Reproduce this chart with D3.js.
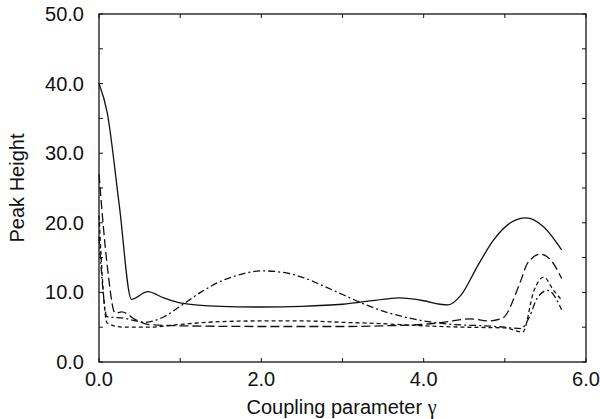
<!DOCTYPE html>
<html>
<head>
<meta charset="utf-8">
<script src="https://cdn.jsdelivr.net/npm/d3@7"></script>
<style>
  body { margin: 0; background: #fff; }
  text { font-family: "Liberation Sans", Arial, sans-serif; fill: #111; }
</style>
</head>
<body>
<div id="chart"></div>
<script>
// Data (gamma, peak height)
const solidGamma = [0, 0.1, 0.25, 0.4, 0.6, 0.8, 1.0, 1.5, 2.0, 2.5, 3.0, 3.5, 3.7, 4.0, 4.2, 4.3, 4.46, 4.66, 4.86, 5.07, 5.26, 5.48, 5.7];
const solidPeak = [40.0, 35.9, 22.5, 9.0, 10.1, 9.2, 8.5, 8.0, 7.9, 8.0, 8.3, 9.0, 9.2, 8.8, 8.3, 8.2, 9.6, 13.7, 17.5, 20.0, 20.7, 19.4, 16.1];

const longDashGamma = [0, 0.1, 0.2, 0.28, 0.45, 0.6, 1.0, 2.0, 3.0, 3.5, 4.0, 4.3, 4.58, 4.8, 4.97, 5.2, 5.28, 5.44, 5.57, 5.7];
const longDashPeak = [27.0, 14.0, 7.0, 7.2, 6.1, 5.4, 5.2, 5.1, 5.1, 5.2, 5.4, 5.8, 6.2, 5.9, 6.3, 11.8, 14.2, 15.5, 14.6, 12.0];

const shortDashGamma = [0, 0.1, 0.3, 0.6, 1.0, 1.5, 2.0, 2.5, 3.0, 3.5, 4.0, 4.5, 5.0, 5.22, 5.36, 5.48, 5.6, 5.7];
const shortDashPeak = [21.0, 5.6, 5.0, 5.0, 5.4, 5.8, 5.9, 5.9, 5.7, 5.5, 5.2, 5.0, 4.9, 4.3, 10.3, 12.2, 10.3, 8.9];

const dashDotGamma = [0, 0.1, 0.3, 0.57, 0.8, 1.0, 1.25, 1.5, 1.75, 2.0, 2.25, 2.5, 2.75, 3.0, 3.25, 3.5, 3.75, 4.0, 4.25, 4.5, 4.75, 5.0, 5.2, 5.3, 5.4, 5.53, 5.7];
const dashDotPeak = [18.0, 6.5, 6.3, 5.7, 6.5, 8.0, 10.0, 11.6, 12.6, 13.1, 12.9, 12.2, 11.0, 9.7, 8.4, 7.3, 6.5, 5.9, 5.5, 5.3, 5.2, 5.0, 4.8, 6.4, 9.2, 10.3, 7.5];

const xTicks = [0, 2, 4, 6];
const yTicks = [0, 10, 20, 30, 40, 50];

const margin = { top: 14, right: 14, bottom: 57, left: 99 };
const width = 600 - margin.left - margin.right;
const height = 419 - margin.top - margin.bottom;

const svg = d3
  .select("#chart")
  .append("svg")
  .attr("width", 600)
  .attr("height", 419);

const g = svg.append("g").attr("transform", `translate(${margin.left},${margin.top})`);

const x = d3.scaleLinear().domain([0, 6]).range([0, width]);
const y = d3.scaleLinear().domain([0, 50]).range([height, 0]);

// Inward ticks on all four sides
const tickLen = 4;
const xMinor = d3.range(0, 6.01, 1);
const yMinor = d3.range(0, 50.01, 5);
g.selectAll(".xt")
  .data(xMinor)
  .enter()
  .append("path")
  .attr("d", (d) => `M${x(d)},${height}v${-tickLen}M${x(d)},0v${tickLen}`)
  .attr("stroke", "#111")
  .attr("stroke-width", 1);
g.selectAll(".yt")
  .data(yMinor)
  .enter()
  .append("path")
  .attr("d", (d) => `M0,${y(d)}h${tickLen}M${width},${y(d)}h${-tickLen}`)
  .attr("stroke", "#111")
  .attr("stroke-width", 1);

// Tick labels
g.selectAll(".xl")
  .data(xTicks)
  .enter()
  .append("text")
  .attr("x", (d) => x(d))
  .attr("y", height + 24)
  .attr("text-anchor", "middle")
  .style("font-size", "20px")
  .text((d) => d.toFixed(1));
g.selectAll(".yl")
  .data(yTicks)
  .enter()
  .append("text")
  .attr("x", -15)
  .attr("y", (d) => y(d) + 7)
  .attr("text-anchor", "end")
  .style("font-size", "20px")
  .text((d) => d.toFixed(1));

// Series lines
const series = [
  { gx: solidGamma, gy: solidPeak, dash: null },
  { gx: longDashGamma, gy: longDashPeak, dash: "9,4" },
  { gx: shortDashGamma, gy: shortDashPeak, dash: "4,3" },
  { gx: dashDotGamma, gy: dashDotPeak, dash: "7,3,2,3" },
];
const line = d3
  .line()
  .x((d) => x(d[0]))
  .y((d) => y(d[1]))
  .curve(d3.curveMonotoneX);

series.forEach((s) => {
  g.append("path")
    .datum(d3.zip(s.gx, s.gy))
    .attr("fill", "none")
    .attr("stroke", "#111")
    .attr("stroke-width", 1.3)
    .attr("stroke-dasharray", s.dash)
    .attr("d", line);
});

// Frame
g.append("rect")
  .attr("width", width)
  .attr("height", height)
  .attr("fill", "none")
  .attr("stroke", "#111")
  .attr("stroke-width", 1.3);

// Axis titles
const xt = svg
  .append("text")
  .attr("x", margin.left + width / 2 - 1)
  .attr("y", 414)
  .attr("text-anchor", "middle")
  .style("font-size", "20px")
  .text("Coupling parameter ");
xt.append("tspan").style("font-family", "'Liberation Serif', serif").text("γ");

svg
  .append("text")
  .attr("transform", "translate(24,188) rotate(-90)")
  .attr("text-anchor", "middle")
  .style("font-size", "20px")
  .text("Peak Height");
</script>
</body>
</html>
